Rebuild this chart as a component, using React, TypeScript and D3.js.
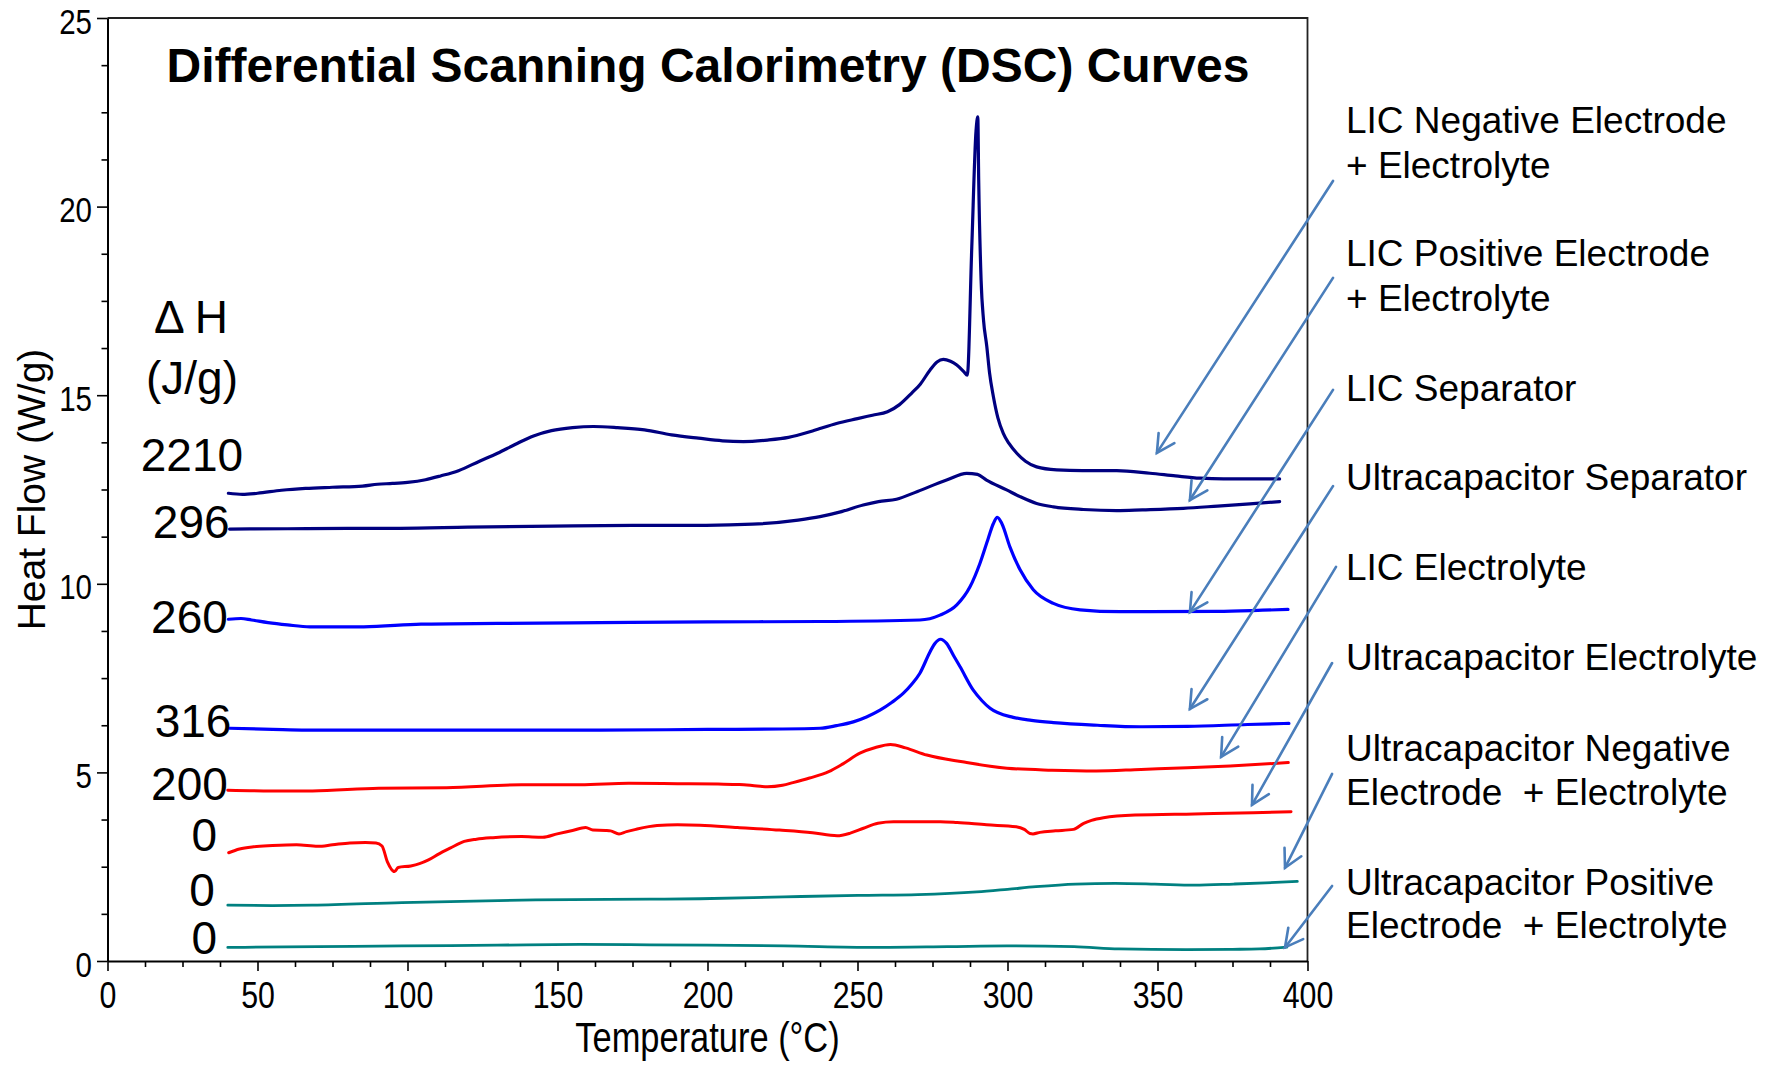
import React, { useEffect, useRef } from "react";
import * as d3 from "d3";

// ---------- data (temperature °C, heat flow W/g) ----------
const licNegElectrode: [number, number][] = [
  [40.3, 12.4], [45, 12.37], [50, 12.4], [58, 12.48], [66, 12.53], [75, 12.56], [85, 12.59], [90, 12.64], [95, 12.66],
  [100, 12.69], [106, 12.76], [111, 12.86], [117, 13.0], [124, 13.25], [130, 13.46], [136, 13.7], [142, 13.92],
  [148, 14.06], [155, 14.14], [162, 14.17], [170, 14.14], [179, 14.08], [188, 13.95], [197, 13.86], [205, 13.79],
  [212, 13.77], [220, 13.81], [227, 13.88], [235, 14.05], [243, 14.25], [250, 14.38], [255, 14.47], [260, 14.56],
  [264, 14.75], [268, 15.05], [271, 15.3], [274.2, 15.67], [276.5, 15.88], [278.6, 15.95], [281, 15.9], [283.1, 15.8],
  [285.5, 15.62], [286.6, 15.53], [288.1, 18.94], [289.5, 22.0], [290.1, 22.38], [290.4, 20.7], [291.2, 18.05],
  [292, 17.0], [293.1, 16.29], [294, 15.6], [295.3, 14.96], [296.8, 14.4], [298.6, 13.99], [300.5, 13.72],
  [303.1, 13.46], [306, 13.25], [309.7, 13.1], [316.4, 13.02], [325, 13.0], [336.4, 13.0], [347.5, 12.93],
  [356, 12.86], [364.2, 12.8], [372, 12.78], [380.8, 12.78], [390.7, 12.78],
];

const licPosElectrode: [number, number][] = [
  [40.7, 11.45], [60, 11.46], [80, 11.47], [97.5, 11.47], [120, 11.5], [148.5, 11.53], [175, 11.55], [199.5, 11.55],
  [215, 11.58], [230.2, 11.69], [237.5, 11.78], [244, 11.9], [251.9, 12.09], [257, 12.18], [263, 12.24], [270, 12.45],
  [279.7, 12.75], [286.4, 12.93], [290, 12.9], [293, 12.75], [299.7, 12.49], [304.2, 12.31], [309.7, 12.13],
  [315.3, 12.04], [325.3, 11.97], [336.4, 11.94], [345, 11.96], [358.6, 12.0], [370, 12.06], [380.8, 12.12],
  [390.7, 12.18],
];

const licSeparator: [number, number][] = [
  [40.3, 9.06], [44.5, 9.08], [48, 9.04], [53.5, 8.97], [60, 8.91], [67.5, 8.86], [85.4, 8.86], [104.5, 8.93],
  [130, 8.95], [164, 8.97], [200, 8.99], [237.5, 9.0], [270.8, 9.04], [277.5, 9.17], [283.1, 9.44], [287.5, 9.92],
  [290.8, 10.54], [293.6, 11.21], [295.3, 11.6], [296.6, 11.76], [298.1, 11.6], [300.8, 10.98], [304.2, 10.37],
  [308.6, 9.84], [315.3, 9.48], [324.2, 9.31], [337.5, 9.26], [347.5, 9.26], [370, 9.27], [385, 9.3], [393.5, 9.32],
];

const ucSeparator: [number, number][] = [
  [40.7, 6.17], [55, 6.14], [66.2, 6.12], [100, 6.12], [164, 6.12], [200, 6.14], [225, 6.15], [237.5, 6.17],
  [243, 6.24], [248.6, 6.34], [253, 6.47], [257.5, 6.65], [261.5, 6.86], [265.3, 7.1], [268, 7.33], [270.8, 7.63],
  [274.2, 8.2], [275.8, 8.42], [277.7, 8.53], [279.7, 8.42], [282, 8.1], [284.2, 7.8], [288.6, 7.18], [291.5, 6.9],
  [294.2, 6.7], [301.9, 6.46], [308, 6.38], [315.3, 6.32], [330, 6.25], [344.2, 6.21], [360, 6.22], [380, 6.27],
  [393.8, 6.3],
];

const licElectrolyte: [number, number][] = [
  [40.1, 4.53], [54.6, 4.51], [68.3, 4.51], [90.4, 4.58], [113, 4.59], [138, 4.67], [157.6, 4.67], [173.7, 4.71],
  [190, 4.7], [203.5, 4.69], [210.6, 4.68], [216.5, 4.64], [220, 4.62], [225, 4.66], [228.5, 4.73], [234, 4.85],
  [240.4, 5.02], [245, 5.22], [250.8, 5.51], [256, 5.66], [261, 5.74], [266, 5.65], [273.1, 5.46], [285, 5.28],
  [299.8, 5.11], [314.8, 5.06], [329.6, 5.04], [344.5, 5.08], [360, 5.12], [374.2, 5.17], [393.6, 5.26],
];

const ucElectrolyte: [number, number][] = [
  [40.4, 2.87], [44, 2.97], [48.7, 3.03], [55, 3.06], [63, 3.08], [70.1, 3.04], [75, 3.08], [80.8, 3.13], [86, 3.14],
  [89.5, 3.13], [91.5, 3.05], [93.3, 2.63], [95.7, 2.37], [96.9, 2.48], [101.1, 2.52], [104, 2.58], [107, 2.68],
  [110.5, 2.84], [114.2, 2.99], [118.9, 3.17], [123, 3.23], [128.5, 3.27], [138, 3.3], [145.1, 3.28], [149.9, 3.37],
  [155, 3.46], [159.4, 3.54], [161.8, 3.47], [166, 3.46], [167.7, 3.45], [170.5, 3.37], [173, 3.43], [176.1, 3.49],
  [183.2, 3.59], [190, 3.61], [197.5, 3.6], [210, 3.54], [224, 3.47], [235, 3.4], [243.2, 3.32], [247.6, 3.39],
  [252, 3.52], [256.8, 3.65], [262, 3.69], [267.4, 3.69], [277.6, 3.69], [283.2, 3.67], [293, 3.61], [302.9, 3.56],
  [305.6, 3.49], [307.5, 3.38], [308.5, 3.37], [310.8, 3.41], [316, 3.45], [322, 3.49], [325.4, 3.65], [328, 3.73],
  [332, 3.8], [342.5, 3.87], [362.3, 3.9], [382, 3.93], [394.5, 3.96],
];

const ucNegElectrode: [number, number][] = [
  [40.1, 1.48], [55, 1.47], [68.3, 1.48], [98.1, 1.55], [142.7, 1.62], [180.8, 1.64], [197.5, 1.65], [225.5, 1.7],
  [250.2, 1.74], [270.1, 1.76], [289.8, 1.83], [300, 1.9], [309.5, 1.97], [322.7, 2.04], [335.9, 2.06], [349.1, 2.04],
  [362.3, 2.01], [375.4, 2.04], [386, 2.07], [396.6, 2.11],
];

const ucPosElectrode: [number, number][] = [
  [40.1, 0.36], [70, 0.38], [98.1, 0.4], [130, 0.42], [157.6, 0.44], [180.8, 0.43], [200, 0.42], [225.5, 0.4],
  [255.2, 0.36], [280, 0.38], [299.8, 0.4], [322.2, 0.38], [337.1, 0.32], [359.4, 0.3], [375, 0.31], [384, 0.32],
  [393.1, 0.37],
];

const seriesNames = [
  ["LIC Negative Electrode", "+ Electrolyte"],
  ["LIC Positive Electrode", "+ Electrolyte"],
  ["LIC Separator"],
  ["Ultracapacitor Separator"],
  ["LIC Electrolyte"],
  ["Ultracapacitor Electrolyte"],
  ["Ultracapacitor Negative", "Electrode  + Electrolyte"],
  ["Ultracapacitor Positive", "Electrode  + Electrolyte"],
];
const seriesData = [
  licNegElectrode, licPosElectrode, licSeparator, ucSeparator,
  licElectrolyte, ucElectrolyte, ucNegElectrode, ucPosElectrode,
];
const deltaH = ["2210", "296", "260", "316", "200", "0", "0", "0"];

// arrows: tail [T, HF] -> tip [T, HF]
const arrowTails: [number, number][] = [
  [408.5, 20.68], [408.5, 18.11], [408.5, 15.14], [408.5, 12.59],
  [409.5, 10.45], [408.2, 7.9], [408.2, 4.96], [408.2, 1.99],
];
const arrowTips: [number, number][] = [
  [349.8, 13.47], [360.8, 12.22], [360.8, 9.25], [360.8, 6.68],
  [371.2, 5.41], [381.5, 4.14], [392.5, 2.47], [392.5, 0.36],
];

const xTickValues = [0, 50, 100, 150, 200, 250, 300, 350, 400];
const yTickValues = [0, 5, 10, 15, 20, 25];

// ---------- styles / layout ----------
const W = 1775;
const H = 1065;
const PLOT = { left: 107.5, right: 1307.5, top: 18, bottom: 961 };
const colors = ["#000080", "#000080", "#0000ff", "#0000ff", "#ff0000", "#ff0000", "#008080", "#008080"];
const widths = [3.2, 3.2, 3.2, 3.2, 3, 3, 2.8, 2.8];
const ARROW = "#4a7ebb";
const SANS = "'Liberation Sans', Arial, sans-serif";
const NARROW_SCALE = 0.82;
// ΔH label placement in chart units (right edge T, baseline HF)
const dHPos: [number, number][] = [
  [45.2, 13.0], [40.7, 11.21], [40.1, 8.7], [41.3, 5.94], [40.1, 4.27], [36.5, 2.92], [35.8, 1.46], [36.5, 0.19],
];
const labelX = 1346;
const labelBaselines = [[133, 178], [266, 311], [401], [490], [580], [670], [761, 805], [895, 938]];

export default function App() {
  const axesRef = useRef<SVGGElement | null>(null);

  const x = d3.scaleLinear().domain([0, 400]).range([PLOT.left, PLOT.right]);
  const y = d3.scaleLinear().domain([0, 25]).range([PLOT.bottom, PLOT.top]);
  const line = d3
    .line<[number, number]>()
    .x((d) => x(d[0]))
    .y((d) => y(d[1]))
    .curve(d3.curveMonotoneX);

  useEffect(() => {
    const g = d3.select(axesRef.current);
    g.selectAll("*").remove();

    const xMinor = d3.range(0, 400.01, 12.5).filter((v) => v % 50 !== 0);
    const yMinor = d3.range(0, 25.01, 1.25).filter((v) => v % 5 !== 0);

    const xg = g.append("g").attr("transform", `translate(0,${PLOT.bottom})`);
    xg.call(d3.axisBottom(x).tickValues(xMinor).tickSize(6).tickSizeOuter(0).tickFormat(() => ""));
    xg.select(".domain").remove();
    const xg2 = g.append("g").attr("transform", `translate(0,${PLOT.bottom})`);
    xg2.call(
      d3.axisBottom(x).tickValues(xTickValues).tickSize(10).tickPadding(11).tickSizeOuter(0).tickFormat(d3.format("d"))
    );

    const yg = g.append("g").attr("transform", `translate(${PLOT.left},0)`);
    yg.call(d3.axisLeft(y).tickValues(yMinor).tickSize(6).tickSizeOuter(0).tickFormat(() => ""));
    yg.select(".domain").remove();
    const yg2 = g.append("g").attr("transform", `translate(${PLOT.left},0)`);
    yg2.call(
      d3.axisLeft(y).tickValues(yTickValues).tickSize(10.5).tickPadding(5).tickSizeOuter(0).tickFormat(d3.format("d"))
    );

    g.selectAll(".domain").attr("stroke", "#000").attr("stroke-width", 2);
    g.selectAll(".tick line").attr("stroke", "#000").attr("stroke-width", 1.6);
    g.selectAll(".tick text").attr("fill", "#000").style("font-family", SANS);
    // condensed look (Arial Narrow-like)
    xg2.selectAll(".tick text").style("font-size", "37px").attr("transform", `scale(${NARROW_SCALE},1)`);
    yg2
      .selectAll(".tick text")
      .style("font-size", "36px")
      .attr("dy", "0.42em")
      .attr("x", -15.5 / NARROW_SCALE)
      .attr("transform", `scale(${NARROW_SCALE},1)`);
  }, []);

  const armLen = 20;
  const armAng = (28 * Math.PI) / 180;

  return (
    <svg
      width={W}
      height={H}
      viewBox={`0 0 ${W} ${H}`}
      style={{ position: "absolute", left: 0, top: 0, display: "block", background: "#fff" }}
    >
      <rect x={0} y={0} width={W} height={H} fill="#fff" />

      {/* frame top & right */}
      <path d={`M${x(0)},${y(25)}H${x(400)}V${y(0)}`} fill="none" stroke="#222" strokeWidth={1.8} />

      <g ref={axesRef} />

      {/* curves */}
      {seriesData.map((d, i) => (
        <path
          key={i}
          d={line(d) || ""}
          fill="none"
          stroke={colors[i]}
          strokeWidth={widths[i]}
          strokeLinejoin="round"
          strokeLinecap="round"
        />
      ))}

      {/* title */}
      <text x={708} y={82} textAnchor="middle" fontFamily={SANS} fontWeight="bold" fontSize={48} fill="#000">
        Differential Scanning Calorimetry (DSC) Curves
      </text>

      {/* axis titles */}
      <g transform={`translate(${(PLOT.left + PLOT.right) / 2},1052) scale(${NARROW_SCALE},1)`}>
        <text x={0} y={0} textAnchor="middle" fontFamily={SANS} fontSize={42} fill="#000">
          Temperature (°C)
        </text>
      </g>
      <text
        transform={`translate(45,${(PLOT.top + PLOT.bottom) / 2}) rotate(-90)`}
        textAnchor="middle"
        fontFamily={SANS}
        fontSize={39}
        fill="#000"
      >
        Heat Flow (W/g)
      </text>

      {/* ΔH header and values */}
      <text x={191} y={333} textAnchor="middle" fontFamily={SANS} fontSize={46} fill="#000">
        Δ H
      </text>
      <text x={192} y={394} textAnchor="middle" fontFamily={SANS} fontSize={46} fill="#000">
        (J/g)
      </text>
      {deltaH.map((v, i) => (
        <text
          key={i}
          x={x(dHPos[i][0])}
          y={y(dHPos[i][1])}
          textAnchor="end"
          fontFamily={SANS}
          fontSize={46}
          fill="#000"
        >
          {v}
        </text>
      ))}

      {/* arrows */}
      {arrowTips.map((tip, i) => {
        const tx = x(tip[0]);
        const ty = y(tip[1]);
        const sx = x(arrowTails[i][0]);
        const sy = y(arrowTails[i][1]);
        const a = Math.atan2(sy - ty, sx - tx);
        const a1 = a + armAng;
        const a2 = a - armAng;
        return (
          <g key={i} stroke={ARROW} strokeWidth={2.6} fill="none" strokeLinecap="round">
            <line x1={sx} y1={sy} x2={tx} y2={ty} />
            <path
              d={`M${tx + armLen * Math.cos(a1)},${ty + armLen * Math.sin(a1)}L${tx},${ty}L${
                tx + armLen * Math.cos(a2)
              },${ty + armLen * Math.sin(a2)}`}
              strokeLinejoin="miter"
            />
          </g>
        );
      })}

      {/* series labels */}
      {seriesNames.map((lines, i) =>
        lines.map((t, j) => (
          <text
            key={`${i}-${j}`}
            x={labelX}
            y={labelBaselines[i][j]}
            fontFamily={SANS}
            fontSize={37}
            fill="#000"
            style={{ whiteSpace: "pre" }}
          >
            {t}
          </text>
        ))
      )}
    </svg>
  );
}
